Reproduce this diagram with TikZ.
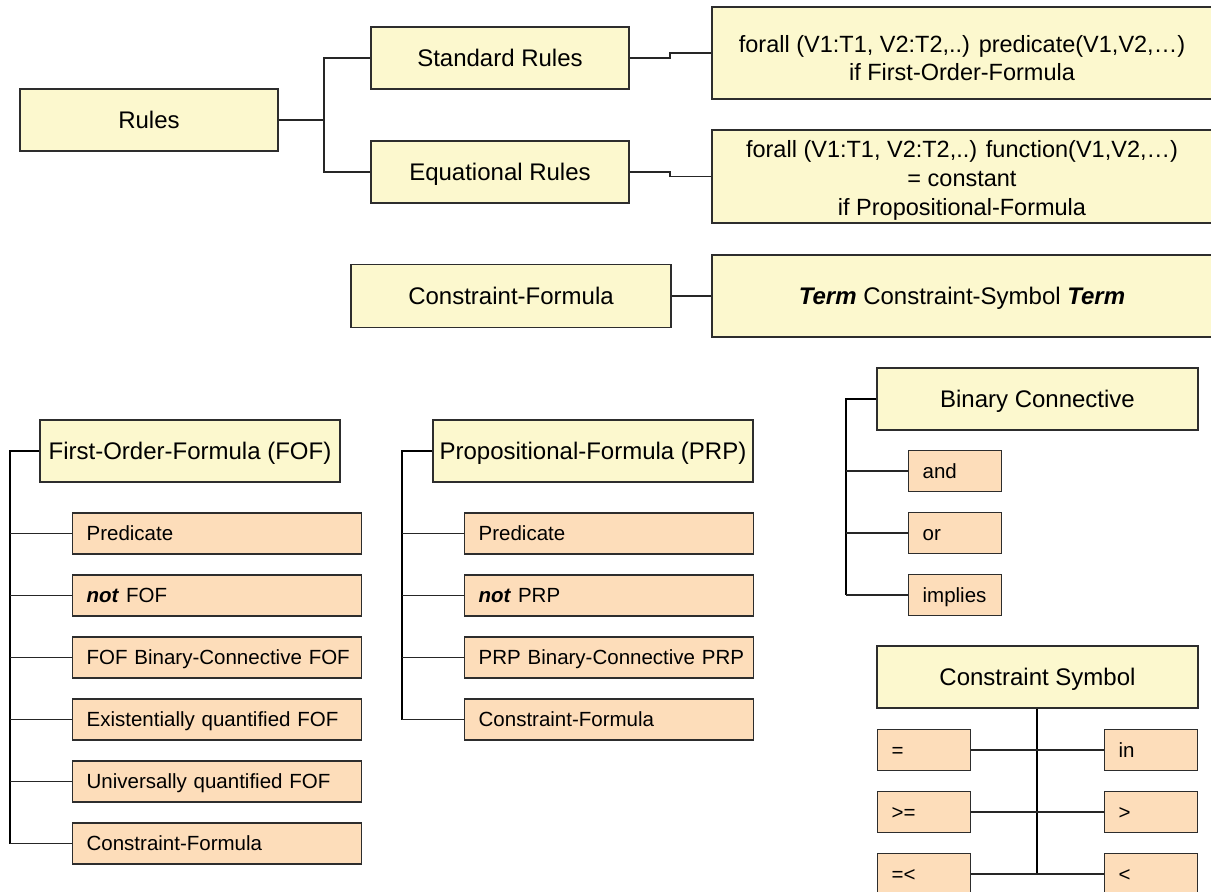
\documentclass[tikz,border=0pt]{standalone}
\usepackage{fontspec}
\setmainfont{Liberation Sans}
\definecolor{yel}{RGB}{252,248,206}
\definecolor{peach}{RGB}{253,221,186}
\definecolor{bd}{RGB}{45,45,45}
\begin{document}
\begin{tikzpicture}[x=1pt,y=-1pt,
  box/.style={draw=bd, line width=1.3pt, inner sep=0pt},
  hdr/.style={box, fill=yel, font=\fontsize{24}{28.5}\selectfont, align=center,
              minimum height=62pt, text height=17.2pt, text depth=0pt},
  hdrm/.style={box, fill=yel, align=center},
  item/.style={box, fill=peach, font=\fontsize{20.5}{24}\selectfont, anchor=west,
               minimum height=41pt, inner xsep=14pt, align=left,
               text height=14.7pt, text depth=0pt},
  wide/.style={item, minimum width=289pt, text width=261pt},
  small/.style={item, minimum width=93pt, text width=65pt},
  link/.style={draw=black!85, line width=1.1pt},
  trunk/.style={draw=black, line width=1.5pt}]
\useasboundingbox (0,0) rectangle (1211,892);
\fill[white] (0,0) rectangle (1211,892);

% --- Rules tree
\node[hdr, minimum width=258pt] (rules) at (149,120) {Rules};
\node[hdr, minimum width=258pt] (std) at (500,58) {Standard Rules};
\node[hdr, minimum width=258pt] (eqr) at (500,172) {Equational Rules};
\node[hdrm, minimum width=500pt, minimum height=92pt,
      font=\fontsize{23.5}{27.5}\selectfont] (fa1) at (962,53)
  {\rule{0pt}{27pt}forall (V1:T1, V2:T2,..) predicate(V1,V2,…)\\ if First-Order-Formula};
\node[hdrm, minimum width=500pt, minimum height=93pt,
      font=\fontsize{23.5}{29}\selectfont] (fa2) at (962,176.5)
  {\rule{0pt}{24pt}forall (V1:T1, V2:T2,..) function(V1,V2,…)\\ = constant\\ if Propositional-Formula};
\coordinate (rj) at (324,120);
\draw[link] (rules.east) -- (rj);
\draw[link] (rj) |- (std.west);
\draw[link] (rj) |- (eqr.west);
\coordinate (sj) at (670,58);
\coordinate (ej) at (670,172);
\draw[link] (std.east) -- (sj) |- (fa1.west);
\draw[link] (eqr.east) -- (ej) |- (fa2.west);

% --- Constraint formula
\node[hdr, minimum width=320pt, minimum height=63pt] (cf) at (511,296) {Constraint-Formula};
\node[hdr, minimum width=500pt, minimum height=82pt] (term) at (962,296)
  {\textbf{\textit{Term}} Constraint-Symbol \textbf{\textit{Term}}};
\draw[link] (cf.east) -- (term.west);

% --- First-Order-Formula
\node[hdr, minimum width=300pt] (fof) at (190,451) {First-Order-Formula (FOF)};
\node[wide] (f1) at (72,533.5) {\mbox{Predicate}};
\node[wide] (f2) at (72,595.5) {\mbox{\textbf{\textit{not}} FOF}};
\node[wide] (f3) at (72,657.5) {\mbox{FOF Binary-Connective FOF}};
\node[wide] (f4) at (72,719.5) {\mbox{Existentially quantified FOF}};
\node[wide] (f5) at (72,781.5) {\mbox{Universally quantified FOF}};
\node[wide] (f6) at (72,843.5) {\mbox{Constraint-Formula}};
\coordinate (ft) at (10,451);
\coordinate (fb) at (10,843.5);
\draw[trunk] (fof.west) -- (ft) -- (fb);
\foreach \n in {f1,f2,f3,f4,f5,f6} \draw[link] (\n.west) -- (\n.west -| ft);

% --- Propositional-Formula
\node[hdr, minimum width=320pt] (prp) at (593,451) {Propositional-Formula (PRP)};
\node[wide] (p1) at (464,533.5) {\mbox{Predicate}};
\node[wide] (p2) at (464,595.5) {\mbox{\textbf{\textit{not}} PRP}};
\node[wide] (p3) at (464,657.5) {\mbox{PRP Binary-Connective PRP}};
\node[wide] (p4) at (464,719.5) {\mbox{Constraint-Formula}};
\coordinate (pt) at (402,451);
\coordinate (pb) at (402,719.5);
\draw[trunk] (prp.west) -- (pt) -- (pb);
\foreach \n in {p1,p2,p3,p4} \draw[link] (\n.west) -- (\n.west -| pt);

% --- Binary Connective
\node[hdr, minimum width=321pt] (bc) at (1037.5,399) {Binary Connective};
\node[small] (b1) at (908,471) {and};
\node[small] (b2) at (908,533) {or};
\node[small] (b3) at (908,595) {implies};
\coordinate (bt) at (846,399);
\coordinate (bb) at (846,595);
\draw[trunk] (bc.west) -- (bt) -- (bb);
\foreach \n in {b1,b2,b3} \draw[link] (\n.west) -- (\n.west -| bt);

% --- Constraint Symbol
\node[hdr, minimum width=321pt] (cs) at (1037.5,677) {Constraint Symbol};
\node[small] (l1) at (877,750) {=};
\node[small] (l2) at (877,812) {>=};
\node[small] (l3) at (877,874) {=<};
\node[small] (r1) at (1104,750) {in};
\node[small] (r2) at (1104,812) {>};
\node[small] (r3) at (1104,874) {<};
\coordinate (cb) at (1037,874);
\draw[trunk] (cs.south -| cb) -- (cb);
\draw[link] (l1.east) -- (r1.west);
\draw[link] (l2.east) -- (r2.west);
\draw[link] (l3.east) -- (r3.west);
\end{tikzpicture}
\end{document}
